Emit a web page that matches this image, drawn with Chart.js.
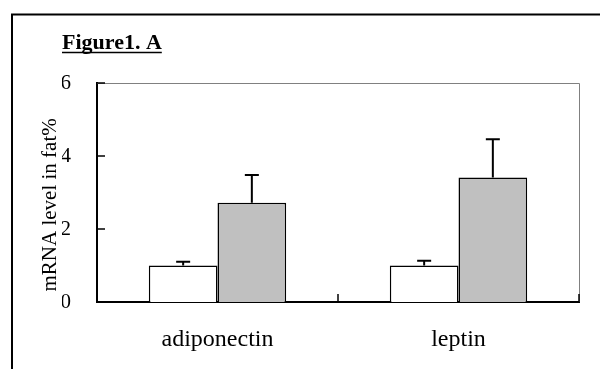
<!DOCTYPE html>
<html>
<head>
<meta charset="utf-8">
<script src="https://cdn.jsdelivr.net/npm/chart.js@4/dist/chart.umd.min.js"></script>
<style>
  html, body { margin: 0; padding: 0; background: #fff; }
  #wrap { width: 600px; height: 369px; position: relative; }
</style>
</head>
<body>
<div id="wrap"><canvas id="c" width="600" height="369"></canvas></div>
<script>
const categories = ['adiponectin', 'leptin'];
const seriesNames = ['Control', 'Treated'];
const controlValues = [1.00, 1.00];
const controlErrors = [0.10, 0.13];
const treatedValues = [2.72, 3.41];
const treatedErrors = [0.76, 1.05];
const yTicks = [0, 2, 4, 6];
const chartTitle = 'Figure1. A';
const yTitle = 'mRNA level in fat%';

const SERIF = '"Liberation Serif", "Times New Roman", serif';
const TITLE_SIZE = 22;

const framePlugin = {
  id: 'frame',
  beforeDraw(chart) {
    const ctx = chart.ctx;
    ctx.save();
    ctx.fillStyle = '#fff';
    ctx.fillRect(0, 0, chart.width, chart.height);
    ctx.strokeStyle = '#000';
    ctx.lineWidth = 2;
    ctx.strokeRect(12, 14.5, 800, 600);
    ctx.restore();
  },
  beforeDatasetsDraw(chart) {
    const {ctx, chartArea: a} = chart;
    ctx.save();
    ctx.strokeStyle = '#808080';
    ctx.lineWidth = 1;
    ctx.beginPath();
    ctx.moveTo(a.left, Math.round(a.top) + 0.5);
    ctx.lineTo(Math.round(a.right) + 0.5, Math.round(a.top) + 0.5);
    ctx.lineTo(Math.round(a.right) + 0.5, a.bottom);
    ctx.stroke();
    ctx.restore();
  },
  afterDatasetsDraw(chart) {
    const {ctx, chartArea: a} = chart;
    const xs = chart.scales.x, ys = chart.scales.y;
    ctx.save();
    ctx.strokeStyle = '#000';
    ctx.lineWidth = 1.5;
    ys.ticks.forEach(t => {
      const y = ys.getPixelForValue(t.value);
      ctx.beginPath();
      ctx.moveTo(a.left, y);
      ctx.lineTo(a.left + 8, y);
      ctx.stroke();
    });
    const bounds = [];
    for (let i = 1; i < categories.length; i++) {
      bounds.push((xs.getPixelForValue(i - 1) + xs.getPixelForValue(i)) / 2);
    }
    bounds.push(a.right);
    bounds.forEach(x => {
      ctx.beginPath();
      ctx.moveTo(x, a.bottom);
      ctx.lineTo(x, a.bottom - 8);
      ctx.stroke();
    });
    const errs = [controlErrors, treatedErrors];
    chart.data.datasets.forEach((ds, di) => {
      const meta = chart.getDatasetMeta(di);
      meta.data.forEach((bar, i) => {
        const top = ys.getPixelForValue(ds.data[i] + errs[di][i]);
        ctx.lineWidth = 2;
        ctx.beginPath();
        ctx.moveTo(bar.x, bar.y);
        ctx.lineTo(bar.x, top);
        ctx.moveTo(bar.x - 7, top);
        ctx.lineTo(bar.x + 7, top);
        ctx.stroke();
      });
    });
    const tb = chart.titleBlock;
    if (tb) {
      ctx.font = 'bold ' + TITLE_SIZE + 'px ' + SERIF;
      const w = ctx.measureText(chartTitle).width;
      ctx.lineWidth = 1.5;
      ctx.beginPath();
      ctx.moveTo(tb.left, 52.5);
      ctx.lineTo(tb.left + w, 52.5);
      ctx.stroke();
    }
    ctx.restore();
  }
};

new Chart(document.getElementById('c'), {
  type: 'bar',
  data: {
    labels: categories,
    datasets: [
      { label: seriesNames[0], data: controlValues, backgroundColor: '#ffffff', borderColor: '#000', borderWidth: 1.5 },
      { label: seriesNames[1], data: treatedValues, backgroundColor: '#c0c0c0', borderColor: '#000', borderWidth: 1.5 }
    ]
  },
  options: {
    responsive: false,
    animation: false,
    devicePixelRatio: 1,
    layout: { padding: { left: 62, right: 21, top: 0, bottom: 0 } },
    datasets: { bar: { categoryPercentage: 0.57, barPercentage: 1.0 } },
    plugins: {
      legend: { display: false },
      tooltip: { enabled: false },
      title: {
        display: true,
        text: chartTitle,
        align: 'start',
        color: '#000',
        font: { family: SERIF, size: TITLE_SIZE, weight: 'bold' },
        padding: { top: 30, bottom: 26.6 }
      }
    },
    scales: {
      x: {
        grid: { display: false },
        border: { display: true, color: '#000', width: 2 },
        ticks: { color: '#000', font: { family: SERIF, size: 24 }, padding: 15 },
        afterFit(s) { s.height = 67; }
      },
      y: {
        min: 0, max: 6,
        afterBuildTicks(s) { s.ticks = yTicks.map(v => ({ value: v })); },
        grid: { display: false },
        border: { display: true, color: '#000', width: 2 },
        ticks: { color: '#000', font: { family: SERIF, size: 21 }, padding: 18 },
        title: {
          display: true,
          text: '  ' + yTitle,
          align: 'start',
          color: '#000',
          font: { family: SERIF, size: 21 },
          padding: { top: -24.6, bottom: 0 }
        },
        afterFit(s) { s.width = 35; }
      }
    }
  },
  plugins: [framePlugin]
});
</script>
</body>
</html>
